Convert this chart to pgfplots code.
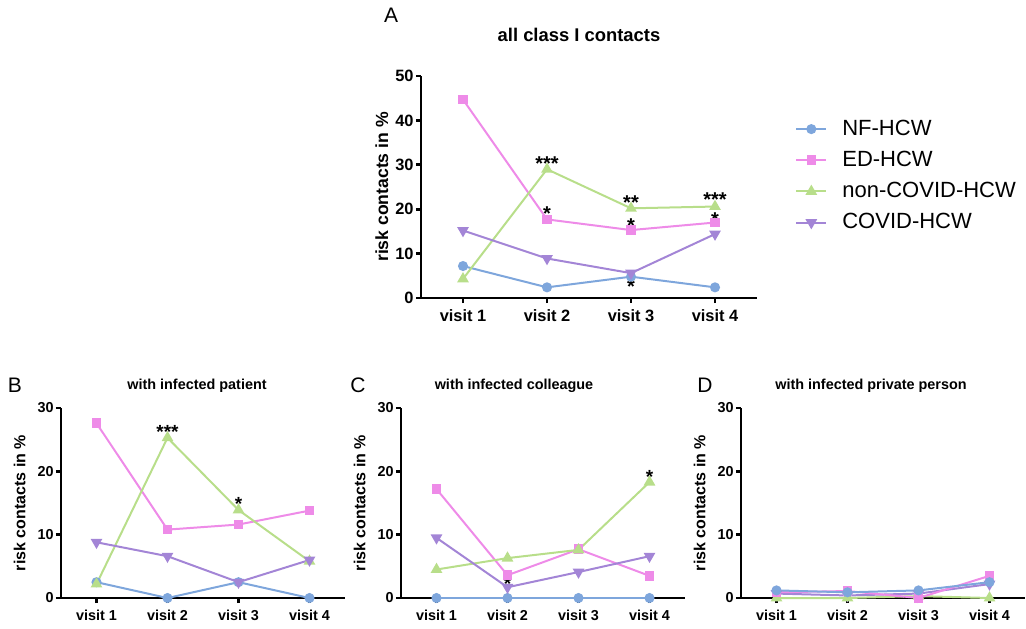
\documentclass[border=0pt]{standalone}
\usepackage{pgfplots}
\pgfplotsset{compat=1.18}
\usepackage{fontspec}
\setmainfont{Liberation Sans}
\definecolor{nf}{RGB}{126,166,220}
\definecolor{ed}{RGB}{238,139,232}
\definecolor{nc}{RGB}{184,222,138}
\definecolor{cv}{RGB}{163,133,214}
\tikzset{star/.style={inner sep=0pt, anchor=base, yshift=-0.56em}}
\pgfplotsset{
  panel/.style={
    scale only axis, clip=false,
    axis x line=bottom, axis y line=left,
    axis line style={line width=1.4pt,-},
    xmin=0.5, xmax=4.5, ymin=0,
    xtick={1,2,3,4}, xticklabels={visit 1,visit 2,visit 3,visit 4},
    tick align=outside, major tick length=2.5pt,
    tick style={line width=1.4pt,black},
    yticklabel style={inner sep=1pt},
    /pgf/number format/assume math mode=true,
    every axis plot/.append style={line width=1pt},
  },
  nfs/.style={color=nf, mark=*, mark size=2pt},
  eds/.style={color=ed, mark=square*, mark size=1.9pt},
  ncs/.style={color=nc, mark=triangle*, mark size=2.4pt},
  cvs/.style={color=cv, mark=triangle*, mark size=2.4pt, mark options={rotate=180}},
}
\begin{document}
\begin{tikzpicture}[x=1pt,y=1pt]
\useasboundingbox (0,0) rectangle (513,314);
% Panel A
\begin{axis}[panel, at={(210.5pt,165pt)}, anchor=south west,
  width=168pt, height=111pt, ymax=50, ytick={0,10,20,30,40,50},
  ticklabel style={font=\bfseries\fontsize{8.2}{9}\selectfont},
  ylabel={risk contacts in \%}, ylabel shift=-1pt,
  ylabel style={font=\bfseries\fontsize{8.8}{10}\selectfont},
  legend image code/.code={\draw[mark repeat=2,mark phase=2] plot coordinates {(0pt,0pt) (7.5pt,0pt) (15pt,0pt)}; \path (20.5pt,0pt);},
  legend style={at={(1.095,0.84)}, anchor=north west, draw=none, fill=none,
    font=\fontsize{11}{13}\selectfont, row sep=2.4pt},
  legend cell align=left]
\addplot[nfs] coordinates {(1,7.2) (2,2.4) (3,4.8) (4,2.4)};
\addplot[eds] coordinates {(1,44.7) (2,17.7) (3,15.3) (4,17.0)};
\addplot[ncs] coordinates {(1,4.3) (2,29.0) (3,20.2) (4,20.6)};
\addplot[cvs] coordinates {(1,15.2) (2,8.9) (3,5.6) (4,14.4)};
\legend{NF-HCW, ED-HCW, non-COVID-HCW, COVID-HCW}
\node[star,font=\bfseries\fontsize{10}{11}\selectfont] at (axis cs:2,31.3) {***};
\node[star,font=\bfseries\fontsize{10}{11}\selectfont] at (axis cs:2,20.0) {*};
\node[star,font=\bfseries\fontsize{10}{11}\selectfont] at (axis cs:3,22.5) {**};
\node[star,font=\bfseries\fontsize{10}{11}\selectfont] at (axis cs:3,17.3) {*};
\node[star,font=\bfseries\fontsize{10}{11}\selectfont] at (axis cs:3,3.6) {*};
\node[star,font=\bfseries\fontsize{10}{11}\selectfont] at (axis cs:4,23.2) {***};
\node[star,font=\bfseries\fontsize{10}{11}\selectfont] at (axis cs:4,18.6) {*};
\end{axis}
% Panel B
\begin{axis}[panel, at={(30.5pt,15pt)}, anchor=south west,
  width=142pt, height=95pt, ymax=30, ytick={0,10,20,30},
  ticklabel style={font=\bfseries\fontsize{7.2}{8}\selectfont},
  ylabel={risk contacts in \%}, ylabel shift=1.5pt,
  ylabel style={font=\bfseries\fontsize{8}{9}\selectfont}]
\addplot[nfs] coordinates {(1,2.5) (2,0) (3,2.5) (4,0)};
\addplot[eds] coordinates {(1,27.6) (2,10.8) (3,11.6) (4,13.8)};
\addplot[ncs] coordinates {(1,2.2) (2,25.3) (3,13.9) (4,5.8)};
\addplot[cvs] coordinates {(1,8.8) (2,6.6) (3,2.5) (4,6.0)};
\node[star,font=\bfseries\fontsize{9.5}{10}\selectfont] at (axis cs:2,26.9) {***};
\node[star,font=\bfseries\fontsize{9.5}{10}\selectfont] at (axis cs:3,15.6) {*};
\end{axis}
% Panel C
\begin{axis}[panel, at={(200.5pt,15pt)}, anchor=south west,
  width=142pt, height=95pt, ymax=30, ytick={0,10,20,30},
  ticklabel style={font=\bfseries\fontsize{7.2}{8}\selectfont},
  ylabel={risk contacts in \%}, ylabel shift=1.5pt,
  ylabel style={font=\bfseries\fontsize{8}{9}\selectfont}]
\addplot[nfs] coordinates {(1,0) (2,0) (3,0) (4,0)};
\addplot[eds] coordinates {(1,17.2) (2,3.6) (3,7.7) (4,3.5)};
\addplot[ncs] coordinates {(1,4.5) (2,6.3) (3,7.6) (4,18.3)};
\addplot[cvs] coordinates {(1,9.5) (2,1.7) (3,4.1) (4,6.6)};
\node[star,font=\bfseries\fontsize{9.5}{10}\selectfont] at (axis cs:2,2.9) {*};
\node[star,font=\bfseries\fontsize{9.5}{10}\selectfont] at (axis cs:4,19.8) {*};
\end{axis}
% Panel D
\begin{axis}[panel, at={(370.5pt,15pt)}, anchor=south west,
  width=142pt, height=95pt, ymax=30, ytick={0,10,20,30},
  ticklabel style={font=\bfseries\fontsize{7.2}{8}\selectfont},
  ylabel={risk contacts in \%}, ylabel shift=1.5pt,
  ylabel style={font=\bfseries\fontsize{8}{9}\selectfont}]
\addplot[cvs] coordinates {(1,0.7) (2,0.4) (3,0.7) (4,2.2)};
\addplot[ncs] coordinates {(1,0) (2,0) (3,0.3) (4,0)};
\addplot[eds] coordinates {(1,0.9) (2,1.1) (3,0) (4,3.5)};
\addplot[nfs] coordinates {(1,1.2) (2,0.9) (3,1.2) (4,2.5)};
\end{axis}
% titles and panel letters
\node[font=\fontsize{10.5}{12}\selectfont] at (195.5,306.5) {A};
\node[font=\bfseries\fontsize{9.2}{10}\selectfont] at (289.5,296.5) {all class I contacts};
\node[font=\fontsize{10.5}{12}\selectfont] at (7.5,121.5) {B};
\node[font=\bfseries\fontsize{7.2}{9}\selectfont] at (98.5,121) {with infected patient};
\node[font=\fontsize{10.5}{12}\selectfont] at (179,121.5) {C};
\node[font=\bfseries\fontsize{7.2}{9}\selectfont] at (257,121) {with infected colleague};
\node[font=\fontsize{10.5}{12}\selectfont] at (352.5,121.5) {D};
\node[font=\bfseries\fontsize{7.2}{9}\selectfont] at (435.5,121) {with infected private person};
\end{tikzpicture}
\end{document}
